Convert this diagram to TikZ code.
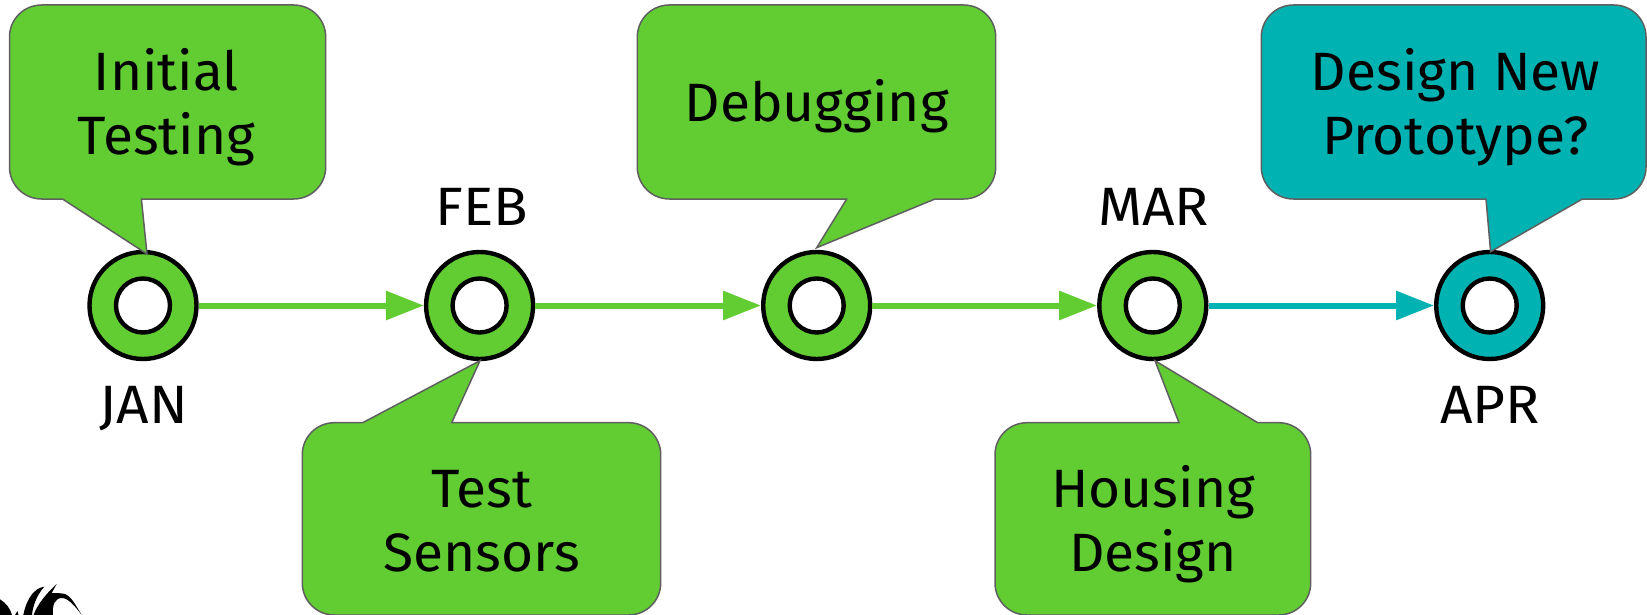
\documentclass[tikz,border=0pt]{standalone}
\usepackage{fontspec}
\setmainfont[FakeStretch=1.02]{Fira Sans}
\newfontfamily\monthfont[FakeStretch=1.05]{Fira Sans}
\usetikzlibrary{arrows.meta}
\definecolor{gr}{HTML}{62CD33}
\definecolor{te}{HTML}{00B2B2}
\definecolor{ed}{HTML}{5F5F5F}
\tikzset{
  ring/.style={circle,draw=black,line width=4.4pt,minimum size=107pt,inner sep=0pt},
  hole/.style={circle,draw=black,line width=4.4pt,fill=white,minimum size=54pt,inner sep=0pt},
  link/.style={line width=6pt,-{Triangle[length=38pt,width=28pt]}},
  bubble/.style={draw=ed,line width=1.5pt,line join=miter},
  lab/.style={font=\fontsize{54}{64}\selectfont,text=black,align=center,inner sep=0pt,anchor=base},
  mon/.style={lab,font=\monthfont\fontsize{54}{64}\selectfont},
}
\begin{document}
\begin{tikzpicture}[x=1pt,y=-1pt]
\useasboundingbox (0,0) rectangle (1647,615);
% logo fragment
\fill[black] (0,599.3) .. controls (6,603) and (10,608) .. (12,615) -- (0,615) -- cycle;
\fill[black] (15,615) -- (17.5,611) -- (18.5,615) -- cycle;
\fill[black] (44.3,586.7) .. controls (35,588) and (27,597) .. (23.3,615) -- (32,615) .. controls (33,605) and (37,595) .. cycle;
\fill[black] (56.7,584) .. controls (48,592) and (38,603) .. (33.5,615) -- (53,615) .. controls (52,605) and (55,598) .. (62,598) .. controls (68,598) and (75,606) .. (81.7,615) .. controls (76,606) and (72,597) .. (65,594) .. controls (61,593) and (55,593) .. (51.7,593) -- cycle;
% rings
\node[ring,fill=gr] (c1) at (143,305.5) {};
\node[ring,fill=gr] (c2) at (479.6,305.5) {};
\node[ring,fill=gr] (c3) at (816.7,305.5) {};
\node[ring,fill=gr] (c4) at (1152.8,305.5) {};
\node[ring,fill=te] (c5) at (1489.7,305.5) {};
\node[hole] (h1) at (c1) {};
\node[hole] (h2) at (c2) {};
\node[hole] (h3) at (c3) {};
\node[hole] (h4) at (c4) {};
\node[hole] (h5) at (c5) {};
% links
\draw[link,gr] (c1.east) -- (c2.west);
\draw[link,gr] (c2.east) -- (c3.west);
\draw[link,gr] (c3.east) -- (c4.west);
\draw[link,te] (c4.east) -- (c5.west);
% bubbles
\draw[bubble,fill=gr] (147,254) [sharp corners] -- (141.4,199) [rounded corners=32pt] -- (325.7,199) -- (325.7,5) -- (9.5,5) -- (9.5,199) [sharp corners] -- (62.5,199) -- cycle;
\draw[bubble,fill=gr] (480,360.7) [sharp corners] -- (451.7,422.7) [rounded corners=32pt] -- (660.7,422.7) -- (660.7,615) -- (302.3,615) -- (302.3,422.7) [sharp corners] -- (362.7,422.7) -- cycle;
\draw[bubble,fill=gr] (816.7,247.7) [sharp corners] -- (846.7,199) [rounded corners=32pt] -- (637.3,199) -- (637.3,5) -- (995.7,5) -- (995.7,199) [sharp corners] -- (935,199) -- cycle;
\draw[bubble,fill=gr] (1155,360.7) [sharp corners] -- (1179,422.7) [rounded corners=32pt] -- (995,422.7) -- (995,615) -- (1310.7,615) -- (1310.7,422.7) [sharp corners] -- (1257.7,422.7) -- cycle;
\draw[bubble,fill=te] (1490.6,251.7) [sharp corners] -- (1486,199) [rounded corners=32pt] -- (1261.3,199) -- (1261.3,5) -- (1646,5) -- (1646,199) [sharp corners] -- (1582.4,199) -- cycle;
% bubble texts
\node[lab] (t1) at (166.4,154) {Initial\\Testing};
\node[lab] (t2) at (481.7,571.7) {Test\\Sensors};
\node[lab] (t3) at (816.7,121.5) {Debugging};
\node[lab] (t4) at (1153,571.7) {Housing\\Design};
\node[lab] (t5) at (1455.5,154) {Design New\\Prototype?};
% month labels
\node[mon] (m1) at (143.5,423) {JAN};
\node[mon] (m2) at (481.6,225) {FEB};
\node[mon] (m4) at (1153.6,225) {MAR};
\node[mon] (m5) at (1490,423) {APR};
\end{tikzpicture}
\end{document}
